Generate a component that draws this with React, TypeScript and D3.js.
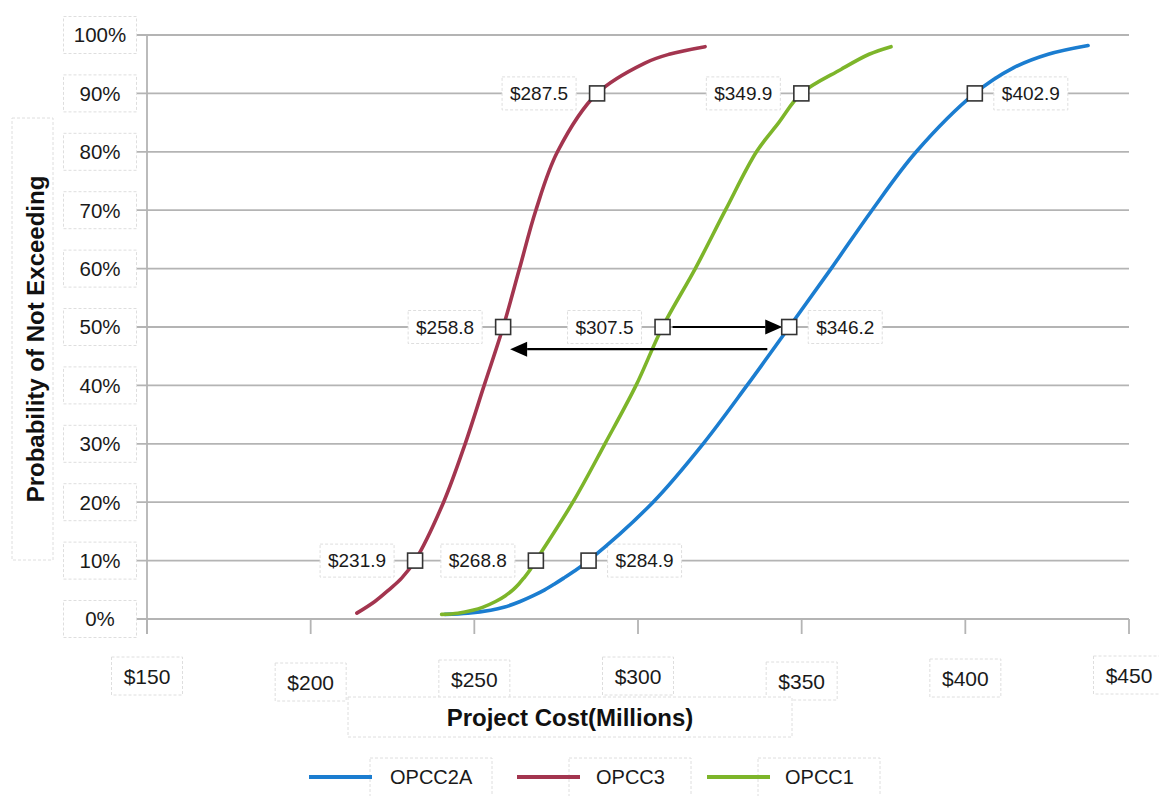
import React from "react";
import * as d3 from "d3";

// Cumulative cost distributions: [probability %, cost $M]
const opcc2aPoints: [number, number][] = [
  [0.8, 241.0], [1, 248.0], [1.5, 255.0], [2, 259.0], [3, 264.0], [4, 268.0],
  [5, 271.5], [6, 274.5], [7, 277.3], [8, 280.0], [10, 284.9], [20, 304.6],
  [30, 319.9], [40, 333.3], [50, 346.2], [60, 359.0], [70, 371.5], [80, 385.0],
  [90, 402.9], [94.4, 414.8], [96.7, 425.3], [98.2, 437.5],
];
const opcc3Points: [number, number][] = [
  [1, 214.1], [3, 219.6], [5, 223.9], [7, 227.8], [10, 231.9], [20, 240.6],
  [30, 247.2], [40, 253.0], [50, 258.8], [60, 263.8], [70, 268.8], [80, 275.4],
  [90, 287.5], [95.2, 302.1], [96.7, 309.5], [98, 320.5],
];
const opcc1Points: [number, number][] = [
  [0.8, 240.0], [1, 245.0], [1.5, 249.5], [2, 252.5], [3, 256.5], [4, 259.5],
  [5, 261.8], [6, 263.6], [7, 265.1], [8, 266.5], [10, 268.8], [20, 280.1],
  [30, 289.9], [40, 299.4], [50, 307.5], [60, 317.5], [70, 326.7], [80, 336.2],
  [85, 343.0], [90, 349.9], [94.1, 362.0], [96.7, 370.6], [98, 377.3],
];

const seriesNames = ["OPCC2A", "OPCC3", "OPCC1"];
const seriesColors = ["#1b7dd0", "#a3354f", "#7db52a"];
const seriesPoints = [opcc2aPoints, opcc3Points, opcc1Points];

// Labelled percentile markers
const markerCosts = [231.9, 258.8, 287.5, 268.8, 307.5, 349.9, 284.9, 346.2, 402.9];
const markerProbs = [10, 50, 90, 10, 50, 90, 10, 50, 90];
const markerSide = ["left", "left", "left", "left", "left", "left", "right", "right", "right"];

const xTicks = [150, 200, 250, 300, 350, 400, 450];
const yTicks = [0, 10, 20, 30, 40, 50, 60, 70, 80, 90, 100];
// small vertical stagger of the cost tick labels
const xTickLabelDy = [0, 6, 3, 0, 5, 2, -1];

// Shift arrows: [from cost, to cost, probability]
const shiftArrows: [number, number, number][] = [
  [307.5, 346.2, 50],
  [339.5, 258.8, 46.2],
];

const FONT = "'Liberation Sans', Arial, Helvetica, sans-serif";
const GRID = "#b4b4b4";
const BOX = "#dedede";

export default function App() {
  const W = 1159;
  const H = 796;
  const x = d3.scaleLinear().domain([150, 450]).range([147, 1129]);
  const y = d3.scaleLinear().domain([0, 100]).range([619, 35]);

  const line = d3
    .line<[number, number]>()
    .x((d) => x(d[1]))
    .y((d) => y(d[0]))
    .curve(d3.curveCatmullRom.alpha(0.5));

  const labelBox = (cx: number, cy: number, w: number, h: number, key: string) => (
    <rect
      key={key}
      x={cx - w / 2}
      y={cy - h / 2}
      width={w}
      height={h}
      fill="#fff"
      stroke={BOX}
      strokeWidth={1}
      strokeDasharray="3 2"
    />
  );

  const legendItems = [
    { lineX: 309, textX: 390, boxX: 370 },
    { lineX: 517, textX: 596, boxX: 569 },
    { lineX: 707, textX: 785, boxX: 758 },
  ];

  return (
    <svg
      width={W}
      height={H}
      style={{ position: "absolute", left: 0, top: 0, background: "#fff" }}
      fontFamily={FONT}
    >
      {/* horizontal gridlines with left tick stubs */}
      {yTicks.map((t) => (
        <line key={"g" + t} x1={137} x2={1129} y1={y(t)} y2={y(t)} stroke={GRID} strokeWidth={1.8} />
      ))}
      {/* vertical axis */}
      <line x1={x(150)} x2={x(150)} y1={y(100)} y2={634} stroke={GRID} strokeWidth={1.8} />
      {/* x tick marks */}
      {xTicks.map((t) => (
        <line key={"xt" + t} x1={x(t)} x2={x(t)} y1={y(0)} y2={634} stroke={GRID} strokeWidth={1.8} />
      ))}

      {/* y tick labels */}
      {yTicks.map((t) => (
        <g key={"yl" + t}>
          {labelBox(100, y(t), 73, 37, "yb" + t)}
          <text x={100} y={y(t)} dy="0.36em" textAnchor="middle" fontSize={20.5} fill="#1a1a1a">
            {t + "%"}
          </text>
        </g>
      ))}

      {/* x tick labels */}
      {xTicks.map((t, i) => (
        <g key={"xl" + t}>
          {labelBox(x(t), 676 + xTickLabelDy[i], 71, 38, "xb" + t)}
          <text x={x(t)} y={676 + xTickLabelDy[i]} dy="0.36em" textAnchor="middle" fontSize={21} fill="#1a1a1a">
            {"$" + t}
          </text>
        </g>
      ))}

      {/* axis titles */}
      <rect x={348} y={697} width={444} height={40} fill="#fff" stroke={BOX} strokeDasharray="3 2" />
      <text x={570} y={717} dy="0.36em" textAnchor="middle" fontSize={24} fontWeight="bold" fill="#111">
        Project Cost(Millions)
      </text>
      <rect x={12} y={118} width={41} height={442} fill="#fff" stroke={BOX} strokeDasharray="3 2" />
      <text
        transform="translate(35,339) rotate(-90)"
        dy="0.36em"
        textAnchor="middle"
        fontSize={24}
        fontWeight="bold"
        fill="#111"
      >
        Probability of Not Exceeding
      </text>

      {/* value labels (beneath the curves) */}
      {markerCosts.map((c, i) => {
        const mx = x(c);
        const my = y(markerProbs[i]);
        const left = markerSide[i] === "left";
        const tx = left ? mx - 29 : mx + 27;
        const tw = 58;
        const bcx = left ? tx - tw / 2 : tx + tw / 2;
        return (
          <g key={"lbl" + i}>
            {labelBox(bcx, my, tw + 16, 33, "mb" + i)}
            <text
              x={tx}
              y={my}
              dy="0.36em"
              textAnchor={left ? "end" : "start"}
              fontSize={19}
              fill="#1a1a1a"
            >
              {"$" + c.toFixed(1)}
            </text>
          </g>
        );
      })}

      {/* distribution curves */}
      {seriesPoints.map((pts, i) => (
        <path
          key={seriesNames[i]}
          d={line(pts) || ""}
          fill="none"
          stroke={seriesColors[i]}
          strokeWidth={3.6}
          strokeLinecap="round"
        />
      ))}

      {/* shift arrows */}
      {shiftArrows.map(([from, to, p], i) => {
        const dir = to > from ? 1 : -1;
        const x1 = x(from) + (i === 0 ? 10 : 0);
        const x2 = x(to) - dir * 7;
        const yy = y(p);
        const head = 17;
        return (
          <g key={"arr" + i}>
            <line x1={x1} x2={x2 - dir * head} y1={yy} y2={yy} stroke="#000" strokeWidth={2.2} />
            <path
              d={`M${x2},${yy} L${x2 - dir * head},${yy - 7.5} L${x2 - dir * head},${yy + 7.5} Z`}
              fill="#000"
            />
          </g>
        );
      })}

      {/* percentile markers */}
      {markerCosts.map((c, i) => (
        <rect
          key={"m" + i}
          x={x(c) - 7.5}
          y={y(markerProbs[i]) - 7.5}
          width={15}
          height={15}
          fill="#fff"
          stroke="#333"
          strokeWidth={1.6}
        />
      ))}

      {/* legend */}
      {seriesNames.map((n, i) => (
        <g key={"lg" + n}>
          <rect
            x={legendItems[i].boxX}
            y={758}
            width={122}
            height={40}
            fill="#fff"
            stroke={BOX}
            strokeDasharray="3 2"
          />
          <line
            x1={legendItems[i].lineX}
            x2={legendItems[i].lineX + 63}
            y1={777}
            y2={777}
            stroke={seriesColors[i]}
            strokeWidth={4}
          />
          <text x={legendItems[i].textX} y={777} dy="0.36em" fontSize={20} fill="#1a1a1a">
            {n}
          </text>
        </g>
      ))}
    </svg>
  );
}
